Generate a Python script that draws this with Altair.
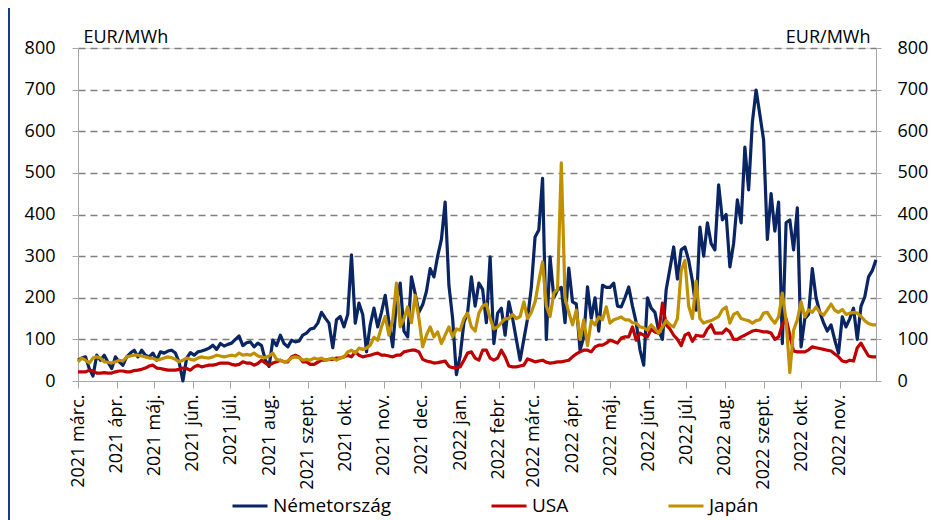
import altair as alt
import pandas as pd

# ---------------- data (one point every 3 days) -------------
START = "2021-03-01"
END = "2022-11-30"
STEP_DAYS = 3

series_names = ["Németország", "USA", "Japán"]
series_colors = ["#0a2564", "#c00000", "#c09000"]

germany = [
    50, 55, 58, 30, 12, 62, 50, 62, 45, 30, 58,          # 2021 márc.
    46, 38, 58, 67, 74, 58, 74, 62, 58, 67,              # ápr.
    50, 70, 67, 72, 74, 67, 45, 0, 55, 68,               # máj.
    62, 70, 72, 75, 79, 86, 76, 90, 84, 88,              # jún.
    91, 100, 108, 85, 92, 94, 82, 91, 85, 50,            # júl.
    35, 98, 85, 110, 90, 82, 98, 94, 96, 110, 115,       # aug.
    125, 127, 139, 165, 151, 139, 80, 147, 155, 130,     # szept.
    160, 303, 139, 187, 160, 70, 135, 175, 130, 165,     # okt.
    206, 140, 82, 190, 235, 120, 106, 250, 210, 165,     # nov.
    183, 215, 270, 250, 300, 340, 430, 230, 150, 15,     # dec.
    60, 140, 165, 250, 180, 235, 220, 140, 298, 90, 163, # 2022 jan.
    175, 110, 190, 150, 100, 50, 100, 150, 225,          # febr.
    346, 363, 487, 100, 298, 200, 219, 225, 140, 271,    # márc.
    190, 185, 74, 106, 226, 150, 200, 120, 230, 225,     # ápr.
    225, 235, 180, 178, 200, 226, 180, 140, 75, 38, 200, # máj.
    175, 165, 120, 100, 220, 270, 322, 245, 315, 322,    # jún.
    290, 240, 170, 370, 300, 380, 330, 315, 471, 387,    # júl.
    400, 274, 331, 435, 380, 562, 459, 622, 699, 640,    # aug.
    579, 340, 450, 360, 430, 90, 380, 387, 315, 416,     # szept.
    82, 150, 160, 270, 200, 165, 140, 120, 135, 98, 67,  # okt.
    154, 130, 150, 175, 100, 180, 202, 250, 265, 291,    # nov.
]

usa = [
    22, 22, 22, 26, 24, 19, 19, 20, 19, 19, 22,
    24, 24, 22, 22, 25, 26, 28, 31, 36, 38,
    31, 30, 28, 26, 26, 26, 28, 31, 30, 26,
    34, 38, 34, 36, 38, 38, 40, 43, 43, 43,
    40, 38, 40, 46, 43, 43, 38, 42, 50, 43,
    38, 43, 46, 50, 46, 46, 58, 62, 58, 46, 46,
    40, 40, 45, 50, 50, 52, 52, 55, 55, 58,
    62, 58, 70, 62, 58, 60, 62, 65, 67, 62,
    62, 60, 58, 62, 62, 70, 72, 74, 74, 70,
    52, 48, 46, 43, 44, 46, 48, 35, 32, 31,
    34, 50, 67, 70, 55, 50, 74, 74, 55, 50, 55,
    74, 58, 36, 34, 34, 36, 38, 53, 50,
    46, 48, 50, 45, 43, 44, 46, 46, 48, 50,
    58, 65, 70, 74, 74, 70, 82, 86, 86, 91,
    98, 95, 91, 103, 106, 106, 130, 98, 115, 110, 106,
    125, 118, 115, 187, 135, 125, 110, 100, 85, 110,
    115, 95, 110, 108, 108, 125, 135, 115, 115, 115,
    125, 118, 100, 100, 106, 110, 115, 120, 122, 120,
    118, 118, 115, 100, 106, 135, 150, 110, 72, 70,
    70, 70, 75, 82, 80, 78, 76, 74, 72, 65, 58,
    48, 46, 50, 48, 80, 91, 75, 60, 58, 58,
]

japan = [
    46, 55, 50, 43, 55, 58, 55, 46, 45, 43, 46,
    50, 48, 58, 60, 62, 62, 60, 58, 55, 55,
    50, 52, 55, 58, 56, 52, 46, 50, 55, 52,
    50, 55, 58, 56, 55, 58, 62, 60, 58, 60,
    62, 60, 67, 62, 64, 62, 67, 60, 58, 56,
    60, 67, 52, 50, 46, 48, 55, 58, 56, 50, 52,
    50, 55, 52, 55, 50, 52, 55, 50, 55, 58,
    70, 74, 67, 79, 76, 79, 86, 105, 98, 130,
    155, 110, 147, 235, 130, 150, 178, 140, 206, 150,
    82, 110, 130, 106, 118, 90, 110, 130, 106, 125,
    122, 150, 163, 130, 120, 163, 180, 185, 150, 125, 130,
    140, 150, 150, 160, 150, 155, 190, 150, 165,
    190, 240, 286, 180, 155, 211, 220, 524, 200, 165,
    135, 170, 100, 147, 85, 145, 135, 154, 147, 178,
    139, 147, 150, 154, 147, 147, 140, 139, 130, 128, 122,
    135, 125, 115, 130, 145, 135, 130, 150, 265, 290,
    180, 150, 240, 150, 139, 143, 145, 150, 155, 171,
    178, 139, 160, 165, 150, 147, 145, 139, 145, 147,
    163, 165, 150, 139, 154, 211, 145, 20, 122, 147,
    190, 154, 171, 165, 178, 165, 158, 171, 185, 170, 165,
    172, 160, 163, 165, 163, 155, 145, 138, 135, 135,
]

month_names = ["jan.", "febr.", "márc.", "ápr.", "máj.", "jún.",
               "júl.", "aug.", "szept.", "okt.", "nov.", "dec."]
y_ticks = [0, 100, 200, 300, 400, 500, 600, 700, 800]
unit_label = "EUR/MWh"

# ---------------- table ----------------
frames = []
for name, vals in zip(series_names, [germany, usa, japan]):
    dates = pd.Timestamp(START) + pd.to_timedelta([STEP_DAYS * i for i in range(len(vals))], unit="D")
    frames.append(pd.DataFrame({"date": dates.strftime("%Y-%m-%d"), "value": vals, "series": name}))
df = pd.concat(frames, ignore_index=True)


def ms(d):
    return int(pd.Timestamp(d).timestamp() * 1000)


tick_ms = [ms(d) for d in pd.date_range("2021-03-01", "2022-11-01", freq="MS")]
x_domain = [ms(START), ms(END)]

FONT = "Open Sans"
AXIS_GREY = "#a6a6a6"

label_expr = ("utcFormat(datum.value, '%Y') + ' ' + ["
              + ",".join("'" + m + "'" for m in month_names)
              + "][utcmonth(datum.value)]")

x_enc = alt.X(
    "date:T",
    scale=alt.Scale(type="utc", domain=x_domain),
    axis=alt.Axis(
        values=tick_ms, labelExpr=label_expr, labelAngle=-90, labelFlush=False,
        labelOverlap=False, labelFont=FONT, labelFontSize=18, labelColor="black",
        labelPadding=6, tickSize=7, tickColor=AXIS_GREY, domainColor=AXIS_GREY,
        grid=False, title=None,
    ),
)

y_scale = alt.Scale(domain=[0, 800], nice=False, zero=True)

legend = alt.Legend(
    orient="none", legendX=153, legendY=439, direction="horizontal", title=None,
    symbolType="stroke", symbolSize=1225, symbolStrokeWidth=3,
    labelFont=FONT, labelFontSize=19, labelColor="black", labelOffset=4,
    columnPadding=93, padding=0,
)
color_enc = alt.Color("series:N", scale=alt.Scale(domain=series_names, range=series_colors),
                      legend=legend)

left_axis = alt.Axis(
    orient="left", values=y_ticks, format="d", title=unit_label, titleAngle=0,
    titleAlign="left", titleBaseline="alphabetic", titleX=5, titleY=-6,
    titleFont=FONT, titleFontSize=18, titleFontWeight="normal", titleColor="black",
    grid=True, gridDash=[7, 5], gridColor="#7f7f7f", gridWidth=1.3,
    gridOpacity={"condition": {"test": "datum.value === 0", "value": 0}, "value": 1},
    tickSize=6, tickColor=AXIS_GREY, domainColor=AXIS_GREY,
    labelPadding=17, labelFont=FONT, labelFontSize=18, labelColor="black",
)
right_axis = alt.Axis(
    orient="right", values=y_ticks, format="d", title=unit_label, titleAngle=0,
    titleAlign="right", titleBaseline="alphabetic", titleX=-6, titleY=-6,
    titleFont=FONT, titleFontSize=18, titleFontWeight="normal", titleColor="black",
    grid=False, tickSize=5, tickColor=AXIS_GREY, domainColor=AXIS_GREY,
    labelPadding=16, labelFont=FONT, labelFontSize=18, labelColor="black",
)

base = alt.Chart(df)


def line_layer(name, axis):
    return base.transform_filter(alt.datum.series == name).mark_line(
        strokeWidth=3.2, strokeJoin="round"
    ).encode(
        x=x_enc,
        y=alt.Y("value:Q", scale=y_scale, axis=axis),
        color=color_enc,
    )


de_layer = line_layer("Németország", left_axis)
us_layer = line_layer("USA", None)
jp_layer = line_layer("Japán", right_axis)

edge_line = alt.Chart(pd.DataFrame({"k": [0]})).mark_rule(color="#1c3a8c", strokeWidth=2).encode(
    x=alt.value(-69), y=alt.value(-40), y2=alt.value(472)
)

chart = alt.layer(de_layer, us_layer, jp_layer, edge_line).resolve_scale(
    y="independent"
).properties(
    width=798, height=333,
    padding={"left": 70, "top": 40, "right": 55, "bottom": 139},
    autosize=alt.AutoSizeParams(type="none"),
).configure_view(stroke=None).configure(background="white")

chart.save("out.html", embed_options={"renderer": "svg", "actions": False})
